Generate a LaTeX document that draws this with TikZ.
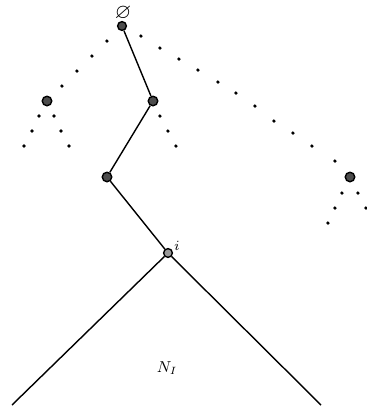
\documentclass[tikz,border=0pt]{standalone}
\usepackage{amssymb}
\begin{document}
\begin{tikzpicture}[x=0.02cm,y=-0.02cm,
  vtx/.style={circle,draw=black,line width=0.8pt,fill=black!70,inner sep=0pt,minimum size=5.4pt},
  pt/.style={circle,fill=black,inner sep=0pt,minimum size=2pt},
  edge/.style={line width=0.8pt,black}]
\useasboundingbox (0,0) rectangle (367,407);
% vertices
\node[vtx,minimum size=5pt] (r) at (122,26) {};
\node[vtx] (a) at (47,101) {};
\node[vtx] (b) at (153,101) {};
\node[vtx] (c) at (350,177) {};
\node[vtx] (d) at (107,177) {};
\node[vtx,minimum size=5pt,fill=black!40] (i) at (168,253) {};
\coordinate (le) at (12,405);
\coordinate (re) at (321,405);
% labels
\node[inner sep=0pt] (empty) at (123,13.5) {\large$\varnothing$};
\node[inner sep=0pt] (il) at (177,246) {\footnotesize$i$};
\node[inner sep=0pt] (nl) at (167,368) {\small$N_I$};
% solid path
\draw[edge] (r) -- (b) -- (d) -- (i);
\draw[edge] (i) -- (le);
\draw[edge] (i) -- (re);
% dotted branches
\foreach \x/\y [count=\k] in {107/41,92/56,77/71,62/86}
  \node[pt] (ra\k) at (\x,\y) {};
\foreach \x/\y [count=\k] in {141/36,160/48,179/59,198/70,218/82,236/93,255/106,274/121,293/133,312/146,335/161}
  \node[pt] (rc\k) at (\x,\y) {};
\foreach \x/\y [count=\k] in {39/116,32/131,24/146,54/116,61/131,69/146}
  \node[pt] (ad\k) at (\x,\y) {};
\foreach \x/\y [count=\k] in {160/116,168/131,176/146}
  \node[pt] (bd\k) at (\x,\y) {};
\foreach \x/\y [count=\k] in {342/193,335/208,328/223,358/193,366/208}
  \node[pt] (cd\k) at (\x,\y) {};
\end{tikzpicture}
\end{document}
